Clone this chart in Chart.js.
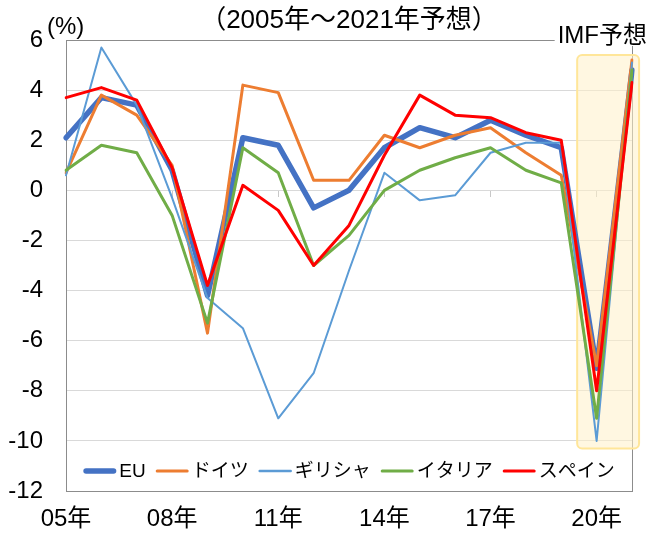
<!DOCTYPE html>
<html>
<head>
<meta charset="utf-8">
<script src="https://cdn.jsdelivr.net/npm/chart.js@4.4.1/dist/chart.umd.min.js"></script>
<style>
  html, body { margin: 0; padding: 0; background: #ffffff; }
  #wrap { width: 650px; height: 534px; }
</style>
</head>
<body>
<div id="wrap"><canvas id="c" width="650" height="534"></canvas></div>
<script>
// ---- data ----
const categories = ['05年','06年','07年','08年','09年','10年','11年','12年','13年','14年','15年','16年','17年','18年','19年','20年','21年'];
const shownXTicks = ['05年','08年','11年','14年','17年','20年'];
const seriesNames = ['EU','ドイツ','ギリシャ','イタリア','スペイン'];
const euValues      = [2.1, 3.7, 3.4, 0.8, -4.2, 2.1, 1.8, -0.7, 0.0, 1.7, 2.5, 2.1, 2.8, 2.2, 1.7, -7.1, 4.8];
const germanyValues = [0.7, 3.8, 3.0, 1.0, -5.7, 4.2, 3.9, 0.4, 0.4, 2.2, 1.7, 2.2, 2.5, 1.5, 0.6, -7.0, 5.2];
const greeceValues  = [0.6, 5.7, 3.4, -0.3, -4.3, -5.5, -9.1, -7.3, -3.2, 0.7, -0.4, -0.2, 1.5, 1.9, 1.9, -10.0, 5.1];
const italyValues   = [0.8, 1.8, 1.5, -1.0, -5.3, 1.7, 0.7, -3.0, -1.8, 0.0, 0.8, 1.3, 1.7, 0.8, 0.3, -9.1, 4.8];
const spainValues   = [3.7, 4.1, 3.6, 0.9, -3.8, 0.2, -0.8, -3.0, -1.4, 1.4, 3.8, 3.0, 2.9, 2.3, 2.0, -8.0, 4.3];
const yMin = -12, yMax = 6, yStep = 2;
const titleText = '（2005年～2021年予想）';
const unitText = '(%)';
const forecastLabel = 'IMF予想';

// ---- styles ----
const FONT = '"Liberation Sans", Arial, "Noto Sans CJK JP", sans-serif';
const colors = ['#4472c4', '#ed7d31', '#5b9bd5', '#70ad47', '#ff0000'];
const widths = [5.5, 3, 2, 3, 3];
const drawOrder = [5, 4, 3, 2, 1];
const allValues = [euValues, germanyValues, greeceValues, italyValues, spainValues];

Chart.defaults.font.family = FONT;
Chart.defaults.color = '#000000';

const datasets = seriesNames.map((name, i) => ({
  label: name,
  data: allValues[i],
  borderColor: colors[i],
  backgroundColor: colors[i],
  borderWidth: widths[i],
  pointRadius: 0,
  pointHoverRadius: 0,
  tension: 0,
  borderJoinStyle: 'round',
  borderCapStyle: 'round',
  order: drawOrder[i],
  fill: false
}));

// forecast box (in data coordinates)
const forecastBox = { xFrom: 14.45, xTo: 16.2, yFrom: 5.4, yTo: -10.3 };

const decorPlugin = {
  id: 'decor',
  beforeDatasetsDraw(chart) {
    const ctx = chart.ctx;
    const ca = chart.chartArea;
    const xs = chart.scales.x, ys = chart.scales.y;
    ctx.save();
    ctx.strokeStyle = '#8c8c8c';
    ctx.lineWidth = 1;
    ctx.strokeRect(Math.round(ca.left) + 0.5, Math.round(ca.top) + 0.5,
                   Math.round(ca.right - ca.left), Math.round(ca.bottom - ca.top));
    const x1 = xs.getPixelForValue(forecastBox.xFrom);
    const x2 = xs.getPixelForValue(forecastBox.xTo);
    const y1 = ys.getPixelForValue(forecastBox.yFrom);
    const y2 = ys.getPixelForValue(forecastBox.yTo);
    ctx.beginPath();
    if (ctx.roundRect) ctx.roundRect(x1, y1, x2 - x1, y2 - y1, 5); else ctx.rect(x1, y1, x2 - x1, y2 - y1);
    ctx.fillStyle = 'rgba(255, 240, 200, 0.55)';
    ctx.fill();
    ctx.strokeStyle = '#ffe699';
    ctx.lineWidth = 2;
    ctx.stroke();
    ctx.restore();
  },
  afterDraw(chart) {
    const ctx = chart.ctx;
    const ca = chart.chartArea;
    ctx.save();
    ctx.font = '19px ' + FONT;
    ctx.textBaseline = 'middle';
    const sample = 33, gap = 3, itemGap = 10;
    const items = chart.data.datasets.map(ds => ({ text: ds.label, color: ds.borderColor, w: ds.borderWidth, tw: ctx.measureText(ds.label).width }));
    const total = items.reduce((s, it) => s + sample + gap + it.tw, 0) + itemGap * (items.length - 1);
    let x = (ca.left + ca.right) / 2 - total / 2;
    const y = ca.bottom - 20;
    items.forEach(it => {
      ctx.strokeStyle = it.color;
      ctx.lineWidth = Math.max(it.w, 2.5);
      ctx.lineCap = 'round';
      ctx.beginPath();
      ctx.moveTo(x + it.w / 2, y);
      ctx.lineTo(x + sample - it.w / 2, y);
      ctx.stroke();
      ctx.fillStyle = '#000';
      ctx.textAlign = 'left';
      ctx.fillText(it.text, x + sample + gap, y + 1);
      x += sample + gap + it.tw + itemGap;
    });
    ctx.font = '24px ' + FONT;
    ctx.textAlign = 'left';
    ctx.fillStyle = '#000';
    ctx.fillText(unitText, 47, 27);
    const fw = ctx.measureText(forecastLabel).width;
    const fx = 650 - 3 - fw;
    ctx.fillStyle = '#ffffff';
    ctx.fillRect(fx - 3, 22, fw + 6, 24);
    ctx.fillStyle = '#000';
    ctx.fillText(forecastLabel, fx, 36);
    ctx.restore();
  }
};

new Chart(document.getElementById('c'), {
  type: 'line',
  data: { labels: categories, datasets },
  options: {
    responsive: false,
    animation: false,
    devicePixelRatio: 1,
    layout: { padding: { top: 0, right: 18, left: 0, bottom: 0 } },
    plugins: {
      legend: { display: false },
      tooltip: { enabled: false },
      title: {
        display: true,
        text: titleText,
        fullSize: false,
        color: '#000',
        font: { size: 26, weight: 'normal', lineHeight: '29px' },
        padding: { top: 6, bottom: 5 }
      }
    },
    scales: {
      x: {
        type: 'category',
        position: 'bottom',
        offset: false,
        grid: { display: false },
        border: { display: false },
        ticks: {
          autoSkip: false,
          maxRotation: 0,
          padding: 6,
          font: { size: 24 },
          color: '#000',
          callback: function(value) {
            const lab = this.getLabelForValue(value);
            return shownXTicks.includes(lab) ? lab : '';
          }
        },
        afterFit: s => { s.height = 43; }
      },
      x0: {
        type: 'category',
        axis: 'x',
        position: { y: 0 },
        offset: false,
        grid: {
          drawOnChartArea: false,
          drawTicks: true,
          tickLength: 6,
          tickColor: ctx => (shownXTicks.includes(categories[ctx.index]) ? '#c8c8c8' : 'rgba(0,0,0,0)')
        },
        border: { display: true, color: '#d9d9d9', width: 1 },
        ticks: { display: false, autoSkip: false }
      },
      y: {
        min: yMin,
        max: yMax,
        ticks: { stepSize: yStep, padding: 23, font: { size: 24 }, color: '#000' },
        grid: { color: '#d9d9d9', lineWidth: 1, drawTicks: false },
        border: { display: false },
        afterFit: s => { s.width = 66; }
      }
    }
  },
  plugins: [decorPlugin]
});
</script>
</body>
</html>
